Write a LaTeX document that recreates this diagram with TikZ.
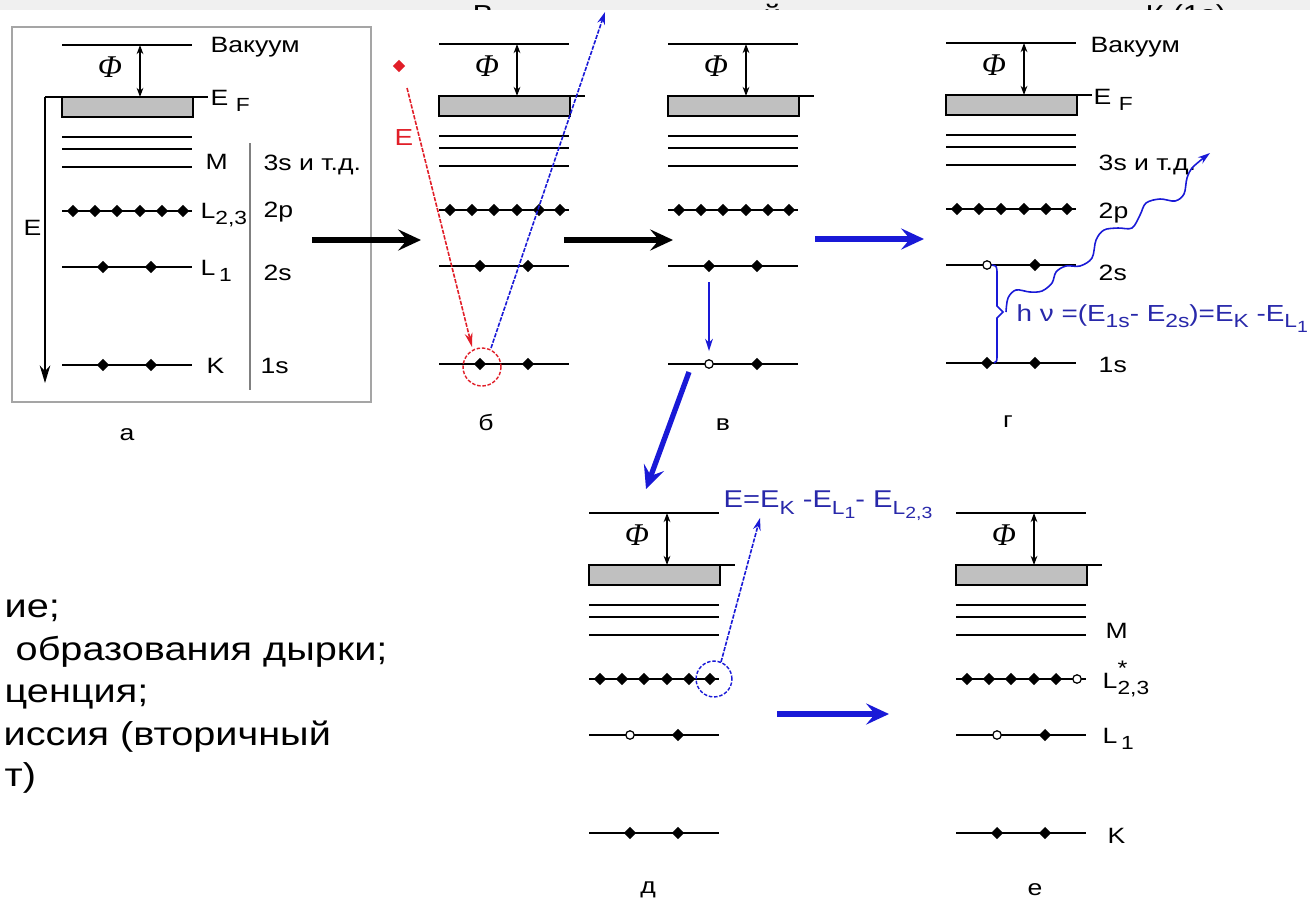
\documentclass[tikz,border=0pt]{standalone}
\usepackage{fontspec}
\setmainfont{Liberation Sans}[FakeStretch=1.2]
\newfontfamily\phifont{Liberation Serif}
\usetikzlibrary{arrows.meta,shapes.geometric}
\definecolor{arrblue}{RGB}{25,25,215}
\definecolor{txtblue}{RGB}{40,40,170}
\definecolor{myred}{RGB}{225,30,40}
\definecolor{boxgray}{RGB}{165,165,165}
\definecolor{efgray}{RGB}{192,192,192}
\definecolor{bandgray}{RGB}{240,240,240}
\newcommand\labfont{\fontsize{6.3}{7.5}\selectfont}
\newcommand\sbs[1]{\raisebox{-0.55ex}{\fontsize{5.4}{6}\selectfont #1}}
\newcommand\ssbs[1]{\raisebox{-0.45ex}{\fontsize{4.6}{5}\selectfont #1}}
\tikzset{
  lvl/.style={line width=0.5pt},
  efbox/.style={draw=black, line width=0.7pt, fill=efgray},
  phiarr/.style={line width=0.4pt, {Stealth[length=2.6pt,width=1.9pt]}-{Stealth[length=2.6pt,width=1.9pt]}},
  phi/.style={font=\fontsize{9}{10}\selectfont\phifont\itshape, inner sep=0pt},
  el/.style={diamond, fill=black, inner sep=0pt, minimum width=3.6pt, minimum height=3.6pt},
  hole/.style={circle, draw=black, fill=white, line width=0.35pt, inner sep=0pt, minimum size=2.4pt},
  lab/.style={font=\labfont, anchor=base west, inner sep=0pt},
  plab/.style={font=\labfont, anchor=base, inner sep=0pt},
  band/.style={font=\fontsize{7.4}{8}\selectfont, anchor=base west, inner sep=0pt},
  bigblack/.style={line width=1.5pt, -{Stealth[length=6.5pt,width=6pt,inset=2.5pt]}},
  bigblue/.style={bigblack, draw=arrblue},
  bluethin/.style={draw=arrblue, line width=0.45pt, -{Stealth[length=3.5pt,width=2.2pt]}},
  bluedash/.style={bluethin, dash pattern=on 1.2pt off 0.4pt},
  redarrow/.style={draw=myred, line width=0.45pt, dash pattern=on 1.2pt off 0.4pt, -{Stealth[length=4pt,width=2.2pt]}},
  redcirc/.style={circle, draw=myred, dash pattern=on 1pt off 0.5pt, line width=0.4pt, minimum size=10.8pt, inner sep=0pt},
  bluecirc/.style={circle, draw=arrblue, dash pattern=on 1pt off 0.5pt, line width=0.4pt, minimum size=10.2pt, inner sep=0pt},
  bodytext/.style={font=\fontsize{9.4}{11}\selectfont, anchor=base west, inner sep=0pt},
}
% #1 name, #2 x, #3 y, #4 style of 6th 2p electron, #5 style of first 2s electron, #6 style of first 1s electron
\newcommand\levelset[6]{%
  \begin{scope}[shift={(#2,#3)}]
    \draw[lvl] (0,0) coordinate (#1vac) -- (130,0);
    \draw[efbox] (0,52) rectangle (131,72);
    \draw[lvl] (0,52) coordinate (#1ef) -- (146,52);
    \foreach \yy in {92,104,122,166,222,320} \draw[lvl] (0,\yy) -- (130,\yy);
    \coordinate (#1phiT) at (78,0);
    \coordinate (#1phiB) at (78,52);
    \draw[phiarr] (#1phiT) -- (#1phiB);
    \node[phi] (#1phi) at (48,22) {Φ};
    \foreach \i/\xx in {1/11,2/33,3/55,4/78,5/100} \node[el] (#1p\i) at (\xx,166) {};
    \node[#4] (#1p6) at (121,166) {};
    \node[#5] (#1sA) at (41,222) {};
    \node[el] (#1sB) at (89,222) {};
    \node[#6] (#1kA) at (41,320) {};
    \node[el] (#1kB) at (89,320) {};
  \end{scope}}
\begin{document}
\begin{tikzpicture}[x=0.01cm,y=-0.01cm]
\useasboundingbox (0,0) rectangle (1310,900);
\clip (0,0) rectangle (1310,900);
\fill[white] (0,0) rectangle (1310,900);

% top band with clipped title
\fill[bandgray] (0,0) rectangle (1310,9.5);
\begin{scope}
  \clip (0,0) rectangle (1310,9.5);
  \node[band] (t1) at (472,24) {В};
  \node[band] (t2) at (763,24) {й};
  \node[band] (t3) at (1145,24) {К (1s)};
\end{scope}

% ---------- panel a ----------
\draw[draw=boxgray, line width=0.7pt] (12,27) rectangle (371,402);
\levelset{a}{62}{45}{el}{el}{el}
\coordinate (axT) at (45,97);
\coordinate (axB) at (45,383);
\draw[lvl] (axT) -- (aef);
\draw[line width=0.5pt, -{Stealth[length=5pt,width=3pt]}] (axT) -- (axB);
\draw[draw=gray, line width=0.4pt] (250,143) -- (250,390);
\node[lab] (aE) at (23,235) {E};
\node[lab] (aVac) at (210,52) {Вакуум};
\node[lab] (aEF) at (210,105) {E \sbs{F}};
\node[lab] (aM) at (205,169) {M};
\node[lab] (aL23) at (200,218) {L\sbs{2,3}};
\node[lab] (aL1) at (200,275) {L\,\sbs{1}};
\node[lab] (aK) at (206,373) {K};
\node[lab] (a3s) at (263,170) {3s и т.д.};
\node[lab] (a2p) at (263,217) {2p};
\node[lab] (a2s) at (263,280) {2s};
\node[lab] (a1s) at (260,373) {1s};
\node[plab] (la) at (127,440) {а};

% ---------- panel b ----------
\levelset{b}{439}{44}{el}{el}{el}
\node[diamond, fill=myred, inner sep=0pt, minimum width=3.6pt, minimum height=3.6pt] (rdot) at (399,66) {};
\coordinate (r1) at (407,88);
\coordinate (r2) at (472,347);
\draw[redarrow] (r1) -- (r2);
\node[redcirc] (rc) at (482,367) {};
\node[font=\fontsize{6.6}{8}\selectfont, text=myred, inner sep=0pt] (rE) at (404,138) {E};
\coordinate (bl1) at (491,348);
\coordinate (bl2) at (605,12);
\draw[bluedash] (bl1) -- (bl2);
\node[plab] (lb) at (486,430) {б};

% ---------- panel v ----------
\levelset{v}{668}{44}{el}{el}{hole}
\draw[bluethin, shorten <=2.6pt, shorten >=2.3pt] (vsA) -- (vkA);
\node[plab] (lv) at (723,430) {в};

% ---------- panel g ----------
\levelset{g}{946}{43}{el}{hole}{el}
\node[lab] (gVac) at (1090,52) {Вакуум};
\node[lab] (gEF) at (1093,104) {E \sbs{F}};
\node[lab] (g3s) at (1098,170) {3s и т.д.};
\node[lab] (g2p) at (1098,218) {2p};
\node[lab] (g2s) at (1098,280) {2s};
\node[lab] (g1s) at (1098,372) {1s};
\node[plab] (lg) at (1008,427) {г};
\coordinate (brTip) at (1003,312);
\draw[draw=arrblue, line width=0.45pt] (gsA.east) .. controls (997,266) .. (997,276) -- (997,306) -- (brTip) -- (997,318) -- (997,352) .. controls (997,362) .. (gkA.east);
\draw[draw=arrblue, line width=0.45pt, -{Stealth[length=3.5pt,width=2.2pt]}]
  plot[smooth, tension=0.55] coordinates {(1006,312) (1008,298) (1016,290) (1030,292) (1042,291) (1052,283) (1056,272) (1066,266) (1080,266) (1092,258) (1096,240) (1104,230) (1118,228) (1132,228) (1140,215) (1146,203) (1160,199) (1175,201) (1184,194) (1187,178) (1193,167) (1210,153)};
\node[font=\fontsize{6.6}{8}\selectfont, text=txtblue, anchor=base west, inner sep=0pt] (gform) at (1016,321)
  {h ν =(E\sbs{1s}- E\sbs{2s})=E\sbs{K} -E\sbs{L\ssbs{1}}};

% ---------- panel d ----------
\levelset{d}{589}{513}{el}{hole}{el}
\node[bluecirc] (dc) at (714,679) {};
\coordinate (dl1) at (721,662);
\coordinate (dl2) at (760,518);
\draw[bluedash] (dl1) -- (dl2);
\node[font=\fontsize{6.9}{8}\selectfont, text=txtblue, anchor=base west, inner sep=0pt] (dform) at (723,507)
  {E=E\sbs{K} -E\sbs{L\ssbs{1}}-\,\,E\sbs{L\ssbs{2,3}}};
\node[plab] (ld) at (648,893) {д};

% ---------- panel e ----------
\levelset{e}{956}{513}{hole}{hole}{el}
\node[lab] (eM) at (1105,638) {M};
\node[lab] (eL23) at (1102,688) {L\rlap{\raisebox{1.05ex}{\fontsize{6}{6}\selectfont *}}\sbs{2,3}};
\node[lab] (eL1) at (1102,743) {L\,\sbs{1}};
\node[lab] (eK) at (1107,843) {K};
\node[plab] (le) at (1035,895) {е};

% ---------- thick arrows between panels ----------
\coordinate (ab1) at (312,240); \coordinate (ab2) at (421,240);
\coordinate (bv1) at (564,240); \coordinate (bv2) at (673,240);
\coordinate (vg1) at (815,239); \coordinate (vg2) at (924,239);
\coordinate (vd1) at (689,372); \coordinate (vd2) at (646,489);
\coordinate (de1) at (777,714); \coordinate (de2) at (889,714);
\draw[bigblack] (ab1) -- (ab2);
\draw[bigblack] (bv1) -- (bv2);
\draw[bigblue] (vg1) -- (vg2);
\draw[bigblue] (vd1) -- (vd2);
\draw[bigblue] (de1) -- (de2);

% ---------- clipped caption text ----------
\node[bodytext] (c1) at (4,617) {ие;};
\node[bodytext] (c2) at (15,660) {образования дырки;};
\node[bodytext] (c3) at (4,702) {ценция;};
\node[bodytext] (c4) at (3,745) {иссия (вторичный};
\node[bodytext] (c5) at (4,786) {т)};
\end{tikzpicture}
\end{document}
